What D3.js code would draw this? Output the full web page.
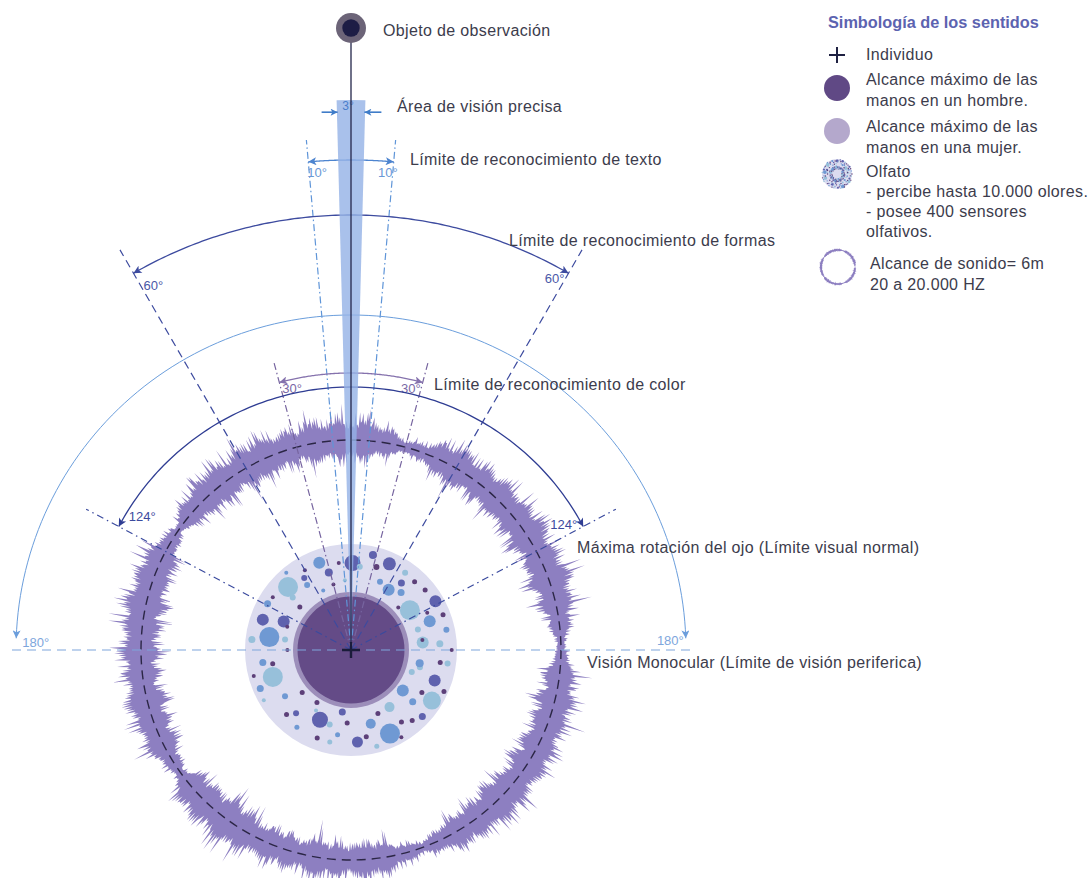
<!DOCTYPE html>
<html><head><meta charset="utf-8">
<script src="https://cdn.jsdelivr.net/npm/d3@7"></script>
<style>body{margin:0;background:#fff}svg{display:block}</style>
</head><body><svg id="c" width="1089" height="878"></svg>
<script>
// ---------------- DATA ----------------
const limitNames = ["precisa","texto","color","formas","rotacion","monocular"];
const limitHalfAngles = [1.5, 5, 15, 30, 62, 90];
const limitLabels = ["3°","10°","30°","60°","124°","180°"];
const limitTexts = ["Área de visión precisa","Límite de reconocimiento de texto","Límite de reconocimiento de color",
  "Límite de reconocimiento de formas","Máxima rotación del ojo (Límite visual normal)","Visión Monocular (Límite de visión periferica)"];
const objectLabel = "Objeto de observación";

// sound envelope, every 5° clockwise from the top (amplitude units)
const soundAngles = d3.range(0, 365, 5);
const soundEnvelope = [28,30,22,8,14,26,30,28,26,30,28,32,30,28,34,30,22,12,6,20,28,30,26,28,30,26,30,32,30,26,24,18,8,14,24,26,
  24,26,28,24,26,24,30,34,32,30,26,8,18,28,26,30,28,26,30,28,32,30,28,26,18,6,20,28,30,28,32,30,28,26,30,32,28];
// spike texture patterns
const spikeA = [1.0,0.55,0.85,0.4,1.15,0.6,0.75,0.35,0.95,0.5,0.7,1.05,0.45,0.8,0.3,0.9,0.65,1.1,0.42,0.72,0.58,0.88,0.38];
const spikeB = [1,0.8,0.95,0.7,1.05,0.85,0.75,1,0.9,0.65,1.1,0.8,0.95,0.7,1,0.85,0.9];
const burst = [0.75,0.85,0.95,1.05,1.12,1.05,0.95,0.85,0.78,0.72,0.8,0.92,1.0,1.08,1.0,0.88];

// olfaction bubbles: [angle°, distance (fraction of disk), size, tone]
const olfatoBubbles = [
[1,0.82,8,"i"],[-20,0.875,6,"m"],[-16,0.76,4,"i"],[13,0.92,4,"i"],[24,0.89,6.5,"i"],[-45,0.84,10,"l"],[-33,0.81,3,"i"],
[35,0.89,3,"l"],[32,0.67,6,"m"],[41,0.72,3.5,"m"],[56,0.67,10,"l"],[60,0.92,6,"i"],[70,0.79,6,"m"],[78,0.92,3,"m"],
[84,0.68,6,"l"],[86,0.84,3.5,"l"],[-71,0.88,6,"i"],[-67,0.69,6,"i"],[-81,0.78,10,"m"],[-84,0.94,3.5,"l"],[-61,0.9,3.5,"m"],
[-109,0.78,10,"l"],[-113,0.93,3.5,"m"],[-156,0.72,8,"i"],[-139,0.79,3,"i"],[-172,0.59,3.5,"i"],[176,0.87,5.5,"i"],
[155,0.87,10,"m"],[165,0.72,5,"m"],[128,0.62,6,"m"],[146,0.65,5,"l"],[122,0.9,9,"l"],[110,0.84,6,"i"],[133,0.92,3.5,"i"],
[130,0.76,3.5,"m"],[104,0.67,3,"l"],[98,0.92,3,"l"],[-164,0.73,3,"l"],[-98,0.84,3.5,"m"],[-125,0.76,3,"m"],[101,0.66,4,"m"],
[-167,0.89,2.5,"l"],[165,0.94,2.5,"l"],[17,0.82,3,"p"],[-8,0.83,2,"p"],[-15,0.64,2,"p"],[6,0.79,3,"l"],[23,0.7,3,"m"],
[43,0.88,2.5,"p"],[51,0.9,2.5,"p"],[37,0.79,3.5,"i"],[69,0.93,2.5,"p"],[73,0.66,3,"l"],[82,0.68,2,"p"],[-50,0.63,2.5,"p"],
[-48,0.74,3,"l"],[-34,0.74,3,"m"],[-70,0.64,2,"p"],[-56,0.89,2,"p"],[-81,0.63,3,"l"],[-30,0.87,2,"p"],[-100,0.75,2.5,"p"],
[-131,0.61,2.5,"p"],[-147,0.59,2.5,"p"],[-135,0.86,2.5,"p"],[-159,0.89,2.5,"p"],[-177,0.69,2.5,"p"],[157,0.65,2.5,"p"],
[170,0.83,2.5,"p"],[145,0.83,2.5,"p"],[139,0.88,2.5,"p"],[121,0.78,2.5,"p"],[98,0.85,2.5,"p"],[110,0.61,3,"l"],
[-171,0.81,2.5,"m"],[-145,0.89,2.5,"m"],[114,0.96,2.5,"p"],[-90,0.6,2,"p"],[-120,0.95,2,"l"],[-40,0.95,2,"m"],[-5,0.66,2,"l"],
[48,0.6,2,"p"],[90,0.95,2,"p"],[150,0.95,2,"p"],[-150,0.66,2,"l"],[-105,0.95,2,"p"],[-25,0.62,2,"m"],[64,0.8,2,"p"]
];

const legendTitle = "Simbología de los sentidos";
const legendItems = [
  {icon:"cross", lines:["Individuo"]},
  {icon:"man", lines:["Alcance máximo de las","manos en un hombre."]},
  {icon:"woman", lines:["Alcance máximo de las","manos en una mujer."]},
  {icon:"olfato", lines:["Olfato","- percibe hasta 10.000 olores.","- posee 400 sensores","olfativos."]},
  {icon:"sound", lines:["Alcance de sonido= 6m","20 a 20.000 HZ"]}
];

// ---------------- LAYOUT / STYLE ----------------
const FONT = "'Liberation Sans', Arial, sans-serif";
const TXT = "#3c3c4c";
const FS = 16, LS = 0.35;
const cx = 351, cy = 650;
const tones = {l:"#97c0da", m:"#6f99d3", i:"#5f62ae", p:"#5d4079"};
const cfg = {
  precisa:  {wedgeR:550},
  texto:    {arcR:490, lineR:512, color:"#4d84cf", lineColor:"#5f95d8", dash:"7,3,1.5,3", labColor:"#6a98d6",
             lab:[[-1,15,"start"],[4,15,"end"]], text:[410,165]},
  color:    {arcR:277, lineR:300, color:"#8572ad", lineColor:"#76649f", dash:"7,3,1.5,3", labColor:"#7a68a6",
             lab:[[3,11,"start"],[-2,11,"end"]], text:[434,390]},
  formas:   {arcR:435, lineR:462, color:"#3d4b9f", lineColor:"#3d4b9f", dash:"8,5", labColor:"#4a58a8",
             lab:[[10,17,"start"],[-4,10,"end"]], text:[509,246]},
  rotacion: {arcR:263, lineR:300, color:"#2f3d93", lineColor:"#3a4a9e", dash:"7,4,1.5,4", labColor:"#3c4a9e",
             lab:[[10,-6,"start"],[-6,2,"end"]], text:[577,553]},
  monocular:{arcR:335, lineR:341, arcEnd:88, color:"#6b9edc", lineColor:"#7ea6dc", dash:"9,6", labColor:"#7ea6dc",
             lab:[[6,9,"start"],[-2,7,"end"]], text:[587,668], width:1}
};

const svg = d3.select("#c");
const defs = svg.append("defs");
const ang = d3.scaleLinear().domain([0, 360]).range([0, 2 * Math.PI]);
const pt = (deg, r) => [r * Math.sin(ang(deg)), -r * Math.cos(ang(deg))];
const g = svg.append("g").attr("transform", `translate(${cx},${cy})`);
const label = (sel, x, y, s) => sel.append("text").attr("x", x).attr("y", y).attr("font-family", FONT)
  .attr("font-size", FS).attr("letter-spacing", LS).attr("fill", TXT).text(s);

function marker(id, color, w, h) {
  defs.append("marker").attr("id", id).attr("viewBox", "0 0 10 10").attr("refX", 10).attr("refY", 5)
    .attr("markerWidth", w || 12).attr("markerHeight", h || 8).attr("markerUnits", "userSpaceOnUse")
    .attr("orient", "auto-start-reverse")
    .append("path").attr("d", "M0,0L10,5L0,10L2.5,5Z").attr("fill", color);
}

// ---------------- OLFATO ----------------
const olfR = 106;
const dist = d3.scaleLinear().domain([0, 1]).range([0, olfR]);
const size = d3.scaleLinear().domain([0, 10]).range([0, 10]);
g.append("circle").attr("r", olfR).attr("fill", "#dcdcef");
g.selectAll("circle.b").data(olfatoBubbles).join("circle").attr("class", "b")
  .attr("cx", d => pt(d[0], dist(d[1]))[0]).attr("cy", d => pt(d[0], dist(d[1]))[1])
  .attr("r", d => size(d[2])).attr("fill", d => tones[d[3]]);

// hands
g.append("circle").attr("r", 58).attr("fill", "#9c8eba");
g.append("circle").attr("r", 53.5).attr("fill", "#644b87");

// ---------------- SOUND RING ----------------
const ringR = 210;
const env = d3.scaleLinear().domain(soundAngles).range(soundEnvelope);
const amp = d3.scaleLinear().domain([0, 35]).range([0, 35]);
const N = 1300;
const soundPts = d3.range(N + 1).map(i => {
  const deg = i * 360 / N, e = amp(env(deg)) * burst[Math.floor(i / 3) % burst.length];
  const o = spikeA[i % spikeA.length] * spikeB[Math.floor(i / 2) % spikeB.length];
  const n = spikeA[(i * 5 + 11) % spikeA.length] * spikeB[(Math.floor(i / 2) * 3 + 4) % spikeB.length];
  return {deg, out: Math.max(1.5, e * (0.4 + 0.62 * o * o)), inn: Math.max(1.5, e * (0.4 + 0.52 * n * n))};
});
g.append("path").datum(soundPts)
  .attr("d", d3.areaRadial().angle(d => ang(d.deg)).innerRadius(d => ringR - d.inn).outerRadius(d => ringR + d.out).curve(d3.curveLinear))
  .attr("fill", "#8d7fc1");
g.append("circle").attr("r", ringR).attr("fill", "none").attr("stroke", "#2b2645").attr("stroke-width", 1.4).attr("stroke-dasharray", "9,6");

// ---------------- RADIAL LINES ----------------
limitNames.forEach((name, k) => {
  const c = cfg[name]; if (!c.lineR) return;
  const h = limitHalfAngles[k];
  [-h, h].forEach(a => {
    const p = pt(a, c.lineR);
    g.append("line").attr("x1", 0).attr("y1", 0).attr("x2", p[0]).attr("y2", p[1])
      .attr("stroke", c.lineColor).attr("stroke-width", 1.2).attr("stroke-dasharray", c.dash);
  });
});

// ---------------- ARCS ----------------
limitNames.forEach((name, k) => {
  const c = cfg[name]; if (!c.arcR) return;
  const h = c.arcEnd || limitHalfAngles[k];
  marker("m-" + name, c.color);
  const arcLine = d3.lineRadial().angle(d => ang(d)).radius(c.arcR);
  g.append("path").attr("d", arcLine(d3.range(-h, h + 0.001, h / 60)))
    .attr("fill", "none").attr("stroke", c.color).attr("stroke-width", c.width || 1.3)
    .attr("marker-start", `url(#m-${name})`).attr("marker-end", `url(#m-${name})`);
  [-h, h].forEach((a, j) => {
    const p = pt(a, c.arcR), o = c.lab[j];
    g.append("text").attr("x", p[0] + o[0]).attr("y", p[1] + o[1]).attr("text-anchor", o[2])
      .attr("font-family", FONT).attr("font-size", 13).attr("fill", c.labColor).text(limitLabels[k]);
  });
  label(svg, c.text[0], c.text[1], limitTexts[k]);
});

// ---------------- PRECISE VISION WEDGE ----------------
const wedge = d3.arc().innerRadius(0).outerRadius(cfg.precisa.wedgeR)
  .startAngle(ang(-limitHalfAngles[0])).endAngle(ang(limitHalfAngles[0]));
g.append("path").attr("d", wedge()).attr("fill", "#93b1e6").attr("opacity", 0.8);
marker("m-pre", "#3f7cc8", 9, 7);
const wTop = pt(limitHalfAngles[0], cfg.precisa.wedgeR);
const yArr = wTop[1] + 12;
g.append("line").attr("x1", -wTop[0] - 15).attr("x2", -wTop[0] + 1).attr("y1", yArr).attr("y2", yArr)
  .attr("stroke", "#3f7cc8").attr("stroke-width", 1.6).attr("marker-end", "url(#m-pre)");
g.append("line").attr("x1", wTop[0] + 16).attr("x2", wTop[0] - 1).attr("y1", yArr).attr("y2", yArr)
  .attr("stroke", "#3f7cc8").attr("stroke-width", 1.6).attr("marker-end", "url(#m-pre)");
g.append("text").attr("x", -3).attr("y", yArr - 2).attr("text-anchor", "middle").attr("font-family", FONT)
  .attr("font-size", 12).attr("fill", "#4a7ecb").text(limitLabels[0]);
label(svg, 397, 112, limitTexts[0]);

// ---------------- OBJECT + AXIS ----------------
const objY = 28 - cy;
g.append("line").attr("x1", 0).attr("x2", 0).attr("y1", objY + 14).attr("y2", 0).attr("stroke", "#23254a").attr("stroke-width", 1.3);
g.append("circle").attr("cy", objY).attr("r", 15).attr("fill", "#6c6478");
g.append("circle").attr("cy", objY).attr("r", 8.7).attr("fill", "#1d1d45");
label(svg, 383, 36, objectLabel);

// center cross
g.append("path").attr("d", "M-9,0H9M0,-8V8").attr("stroke", "#1a1c3a").attr("stroke-width", 2.4);

// ---------------- LEGEND ----------------
const lg = svg.append("g");
lg.append("text").attr("x", 828).attr("y", 28).attr("font-family", "'Liberation Sans Narrow', 'Liberation Sans', sans-serif")
  .attr("font-weight", "bold").attr("font-size", 16.3).attr("fill", "#5c63b0").text(legendTitle);
const legendY = [60, 85, 132, 177, 269];
const legendLH = [20, 20.5, 20.5, 20, 21];
const iconY = [55, 88, 131, 174, 267];
legendItems.forEach((it, k) => {
  const tx = it.icon === "sound" ? 870 : 866;
  it.lines.forEach((s, j) => label(lg, tx, legendY[k] + j * legendLH[k], s));
  const ig = lg.append("g").attr("transform", `translate(${it.icon === "sound" ? 838 : 837},${iconY[k]})`);
  if (it.icon === "cross") ig.append("path").attr("d", "M-8,0H8M0,-8V8").attr("stroke", "#1f2142").attr("stroke-width", 2);
  if (it.icon === "man") ig.append("circle").attr("r", 13).attr("fill", "#604985");
  if (it.icon === "woman") ig.append("circle").attr("r", 13).attr("fill", "#b4a8cc");
  if (it.icon === "olfato") {
    const s = 15 / olfR;
    ig.append("circle").attr("r", 15).attr("fill", "#dcdcef");
    ig.selectAll("circle.lb").data(olfatoBubbles).join("circle").attr("class", "lb")
      .attr("cx", d => pt(d[0], dist(d[1]) * s * 1.05)[0]).attr("cy", d => pt(d[0], dist(d[1]) * s * 1.05)[1])
      .attr("r", d => Math.max(0.7, size(d[2]) * s * 1.3)).attr("fill", d => tones[d[3]]);
    ig.selectAll("circle.lc").data(olfatoBubbles).join("circle").attr("class", "lc")
      .attr("cx", d => pt(d[0] + 37, dist(d[1]) * s * 0.55)[0]).attr("cy", d => pt(d[0] + 37, dist(d[1]) * s * 0.55)[1])
      .attr("r", d => Math.max(0.6, size(d[2]) * s * 1.1)).attr("fill", d => tones[d[3]]);
  }
  if (it.icon === "sound") {
    const r0 = 17;
    ig.append("path").datum(soundPts.filter((d, i) => i % 3 === 0))
      .attr("d", d3.areaRadial().angle(d => ang(d.deg)).innerRadius(d => r0 - d.inn * 0.07).outerRadius(d => r0 + d.out * 0.07))
      .attr("fill", "#8c7ec0");
  }
});
</script></body></html>
